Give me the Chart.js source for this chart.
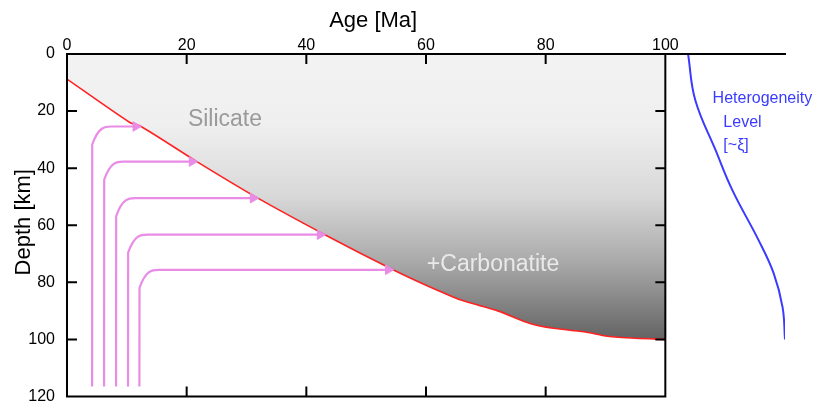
<!DOCTYPE html>
<html>
<head>
<meta charset="utf-8">
<script src="https://cdn.jsdelivr.net/npm/chart.js@4.4.0/dist/chart.umd.min.js"></script>
<style>
html, body { margin: 0; padding: 0; background: #fff; }
</style>
</head>
<body>
<canvas id="chart" width="816" height="405"></canvas>
<script>
// silicate / carbonatite boundary: age [Ma] vs depth [km]
var meltAge   = [0, 10.5, 12.4, 21.7, 31.9, 43.1, 54.5, 60, 66, 72, 77.4, 81.3, 86, 88, 90.3, 95, 100];
var meltDepth = [8.8, 24, 25.4, 37.7, 50.5, 63.3, 75.6, 81, 86.3, 90, 94.4, 96.1, 97.2, 97.9, 98.9, 99.6, 100];

// upwelling paths: age of the rising column, depth where it turns, age where it meets the boundary
var pathAge    = [4.2, 6.2, 8.2, 10.2, 12.1];
var pathDepth  = [25.4, 37.7, 50.5, 63.3, 75.6];
var pathEndAge = [11.5, 20.9, 31.1, 42.3, 53.7];
var pathBottom = 116.5;

// heterogeneity level profile (drawn right of the 100 Ma edge)
var hetLevel = [103.8, 105, 108.4, 111.2, 115.6, 118.1, 119.6, 120];
var hetDepth = [0, 16.1, 33.7, 47.7, 65.3, 76.8, 88.8, 100];

var ageTicks   = [0, 20, 40, 60, 80, 100];
var depthTicks = [0, 20, 40, 60, 80, 100, 120];

var FONT = '"Liberation Sans", Arial, Helvetica, sans-serif';
var PINK = '#e98ce6';
var BLUE = '#3b3bff';
// rounded corner of each path, in axis units (monotone spline does the rounding)
var cornerDx = 3.2, cornerDy = 6.3, cornerEps = 0.02;

function greyFill(context) {
    var chart = context.chart;
    var ys = chart.scales.y;
    if (!chart.chartArea || !ys) return '#cccccc';
    var g = chart.ctx.createLinearGradient(0, ys.getPixelForValue(0), 0, ys.getPixelForValue(100));
    g.addColorStop(0, '#f3f3f3');
    g.addColorStop(0.25, '#efefef');
    g.addColorStop(0.5, '#d8d8d8');
    g.addColorStop(0.73, '#a9a9a9');
    g.addColorStop(1, '#636363');
    return g;
}

var datasets = [];

datasets.push({
    data: meltAge.map(function (a, i) { return {x: a, y: meltDepth[i]}; }),
    showLine: true,
    borderColor: '#ff2222',
    borderWidth: 1.6,
    pointRadius: 0,
    tension: 0.25,
    fill: 'end',
    backgroundColor: greyFill,
    order: 3
});

pathAge.forEach(function (a, i) {
    var d = pathDepth[i];
    var pts = [
        {x: a, y: pathBottom},
        {x: a + cornerEps, y: d + cornerDy},
        {x: a + cornerDx, y: d},
        {x: pathEndAge[i], y: d}
    ];
    datasets.push({
        data: pts,
        showLine: true,
        borderColor: PINK,
        borderWidth: 2.2,
        cubicInterpolationMode: 'monotone',
        pointStyle: 'triangle',
        rotation: 90,
        pointRadius: function (ctx) { return ctx.dataIndex === pts.length - 1 ? 5.5 : 0; },
        pointBackgroundColor: PINK,
        pointBorderColor: PINK,
        pointBorderWidth: 1,
        order: 1
    });
});

datasets.push({
    data: hetLevel.map(function (v, i) { return {x: v, y: hetDepth[i]}; }),
    showLine: true,
    borderColor: BLUE,
    borderWidth: 2,
    pointRadius: 0,
    tension: 0.4,
    order: 2
});

// axes frame with inward ticks, axis titles and region labels
var framePlugin = {
    id: 'frame',
    afterDatasetsDraw: function (chart) {
        var c = chart.ctx, xs = chart.scales.x, ys = chart.scales.y;
        var x0 = xs.getPixelForValue(0), x1 = xs.getPixelForValue(100), x2 = xs.getPixelForValue(120);
        var y0 = ys.getPixelForValue(0), y1 = ys.getPixelForValue(120);
        var tl = 9;
        c.save();
        c.strokeStyle = '#000';
        c.lineWidth = 2;
        c.lineCap = 'square';
        c.beginPath();
        c.moveTo(x0, y0); c.lineTo(x2, y0);
        c.moveTo(x0, y0); c.lineTo(x0, y1); c.lineTo(x1, y1); c.lineTo(x1, y0);
        ageTicks.forEach(function (v) {
            var px = xs.getPixelForValue(v);
            c.moveTo(px, y0); c.lineTo(px, y0 + tl);
            c.moveTo(px, y1); c.lineTo(px, y1 - tl);
        });
        depthTicks.forEach(function (v) {
            var py = ys.getPixelForValue(v);
            c.moveTo(x0, py); c.lineTo(x0 + tl, py);
            c.moveTo(x1, py); c.lineTo(x1 - tl, py);
        });
        c.stroke();

        c.textBaseline = 'middle';
        c.textAlign = 'center';
        c.fillStyle = '#000';
        c.font = '22px ' + FONT;
        c.fillText('Age [Ma]', (x0 + x1) / 2 + 7, 21);
        c.save();
        c.translate(24, (y0 + y1) / 2 - 3);
        c.rotate(-Math.PI / 2);
        c.fillText('Depth [km]', 0, 0);
        c.restore();

        c.font = '23px ' + FONT;
        c.fillStyle = '#9a9a9a';
        c.fillText('Silicate', xs.getPixelForValue(26.4), ys.getPixelForValue(23));
        c.fillStyle = '#e9e9e9';
        c.fillText('+Carbonatite', xs.getPixelForValue(71.2), ys.getPixelForValue(73.9));

        c.font = '16px ' + FONT;
        c.fillStyle = BLUE;
        c.textAlign = 'left';
        c.fillText('Heterogeneity', xs.getPixelForValue(107.9), ys.getPixelForValue(15.5));
        c.fillText('Level', xs.getPixelForValue(109.7), ys.getPixelForValue(23.9));
        c.fillText('[~\u03BE]', xs.getPixelForValue(109.7), ys.getPixelForValue(32));
        c.restore();
    }
};

new Chart(document.getElementById('chart'), {
    type: 'scatter',
    data: {datasets: datasets},
    plugins: [framePlugin],
    options: {
        responsive: false,
        animation: false,
        events: [],
        devicePixelRatio: 1,
        layout: {padding: {left: 0, right: 31, top: 0, bottom: 8.5}},
        plugins: {legend: {display: false}, tooltip: {enabled: false}},
        scales: {
            x: {
                type: 'linear',
                position: 'top',
                min: 0,
                max: 120,
                afterBuildTicks: function (scale) {
                    scale.ticks = ageTicks.map(function (v) { return {value: v}; });
                },
                afterFit: function (scale) {
                    scale.height = 54;
                    scale.paddingLeft = 0;
                    scale.paddingRight = 0;
                },
                grid: {display: false},
                border: {display: false},
                ticks: {
                    color: '#000',
                    padding: -8,
                    maxRotation: 0,
                    font: {family: FONT, size: 16, lineHeight: 1}
                }
            },
            y: {
                type: 'linear',
                reverse: true,
                min: 0,
                max: 120,
                afterBuildTicks: function (scale) {
                    scale.ticks = depthTicks.map(function (v) { return {value: v}; });
                },
                afterFit: function (scale) {
                    scale.width = 67;
                    scale.paddingTop = 0;
                    scale.paddingBottom = 0;
                },
                grid: {display: false},
                border: {display: false},
                ticks: {
                    color: '#000',
                    padding: 4,
                    font: {family: FONT, size: 16, lineHeight: 1}
                }
            }
        }
    }
});
</script>
</body>
</html>
